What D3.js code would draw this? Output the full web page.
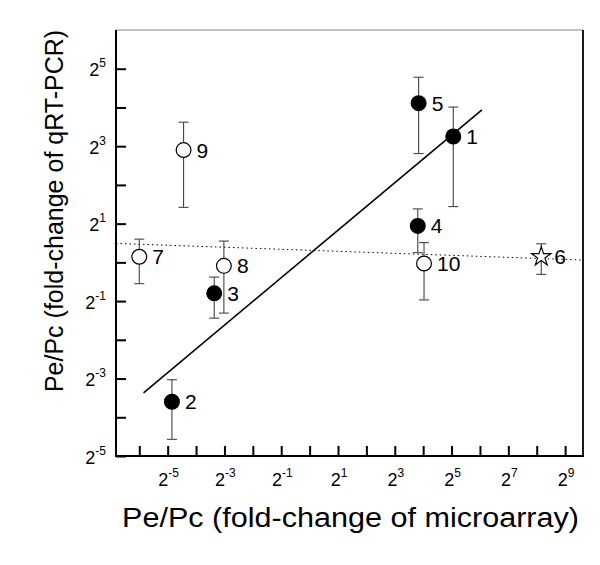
<!DOCTYPE html>
<html><head><meta charset="utf-8">
<script src="https://cdn.jsdelivr.net/npm/d3@7"></script>
<style>body{margin:0;background:#fff}svg{display:block}text{font-family:Arial,"Liberation Sans",sans-serif}</style>
</head><body>
<svg id="chart" width="600" height="565"></svg>
<script>
// log2 values
const ids       = ["1","2","3","4","5","6","7","8","9","10"];
const xLog2     = [5.06,-4.85,-3.36,3.81,3.84,8.16,-6.0,-3.02,-4.44,4.03];
const yLog2     = [3.25,-3.60,-0.80,0.94,4.11,0.145,0.145,-0.09,2.90,-0.03];
const yErrHigh  = [4.01,-3.03,-0.38,1.38,4.78,0.48,0.60,0.55,3.62,0.51];
const yErrLow   = [1.44,-4.57,-1.44,0.25,2.81,-0.31,-0.55,-1.31,1.42,-0.97];
const markers   = ["filled","filled","filled","filled","filled","star","open","open","open","open"];
const xTicks    = [-6,-5,-4,-3,-2,-1,0,1,2,3,4,5,6,7,8,9];
const xTickLabels = [-5,-3,-1,1,3,5,7,9];
const yTicks    = [-5,-4,-3,-2,-1,0,1,2,3,4,5];
const yTickLabels = [-5,-3,-1,1,3,5];
const fitLine   = [[-5.85,-3.37],[6.07,3.94]];
const flatLine  = [[-6.82,0.49],[9.63,0.06]];
const xDomain = [-6.82, 9.63];
const yDomain = [-5, 6];

const svg = d3.select("#chart");
const L=116, R=583, T=30, B=456;
const x = d3.scaleLinear().domain(xDomain).range([L,R]);
const y = d3.scaleLinear().domain(yDomain).range([B,T]);

// frame
svg.append("line").attr("x1",L).attr("x2",R).attr("y1",T).attr("y2",T).attr("stroke","#888").attr("stroke-width",1.2);
svg.append("line").attr("x1",R).attr("x2",R).attr("y1",T).attr("y2",B).attr("stroke","#000").attr("stroke-width",1.8);

function supLabel(sel, e){
  sel.text(null);
  sel.append("tspan").text("2").style("font-size","18px");
  sel.append("tspan").text(e).style("font-size","12px").attr("dy","-9");
}

const xAxis = d3.axisBottom(x).tickValues(xTicks).tickSizeInner(-10).tickSizeOuter(0).tickFormat("");
const gx = svg.append("g").attr("transform",`translate(0,${B})`).call(xAxis);
const yAxis = d3.axisLeft(y).tickValues(yTicks).tickSizeInner(-10).tickSizeOuter(0).tickFormat("");
const gy = svg.append("g").attr("transform",`translate(${L},0)`).call(yAxis);
[gx,gy].forEach(g=>{
  g.select(".domain").attr("stroke","#000").attr("stroke-width",2);
  g.selectAll(".tick line").attr("stroke","#000").attr("stroke-width",2);
});
gx.select(".domain").attr("d",`M${L-1},0H${R+1}`);
gy.select(".domain").attr("d",`M0,${T}V${B+1}`);

// tick labels
svg.append("g").selectAll("text").data(xTickLabels).join("text")
  .attr("x",d=>x(d)+1).attr("y",B+30).attr("text-anchor","middle")
  .each(function(d){supLabel(d3.select(this), d);});
svg.append("g").selectAll("text").data(yTickLabels).join("text")
  .attr("x",L-10).attr("y",d=>y(d)+7.5).attr("text-anchor","end")
  .each(function(d){supLabel(d3.select(this), d);});

// lines
const line = d3.line().x(d=>x(d[0])).y(d=>y(d[1]));
svg.append("path").attr("d",line(flatLine)).attr("stroke","#000").attr("stroke-width",1).attr("stroke-dasharray","1.5,3").attr("fill","none");
svg.append("path").attr("d",line(fitLine)).attr("stroke","#000").attr("stroke-width",1.6).attr("fill","none");

// error bars
const eb = svg.append("g").attr("stroke","#444").attr("stroke-width",1.1);
ids.forEach((id,i)=>{
  const cx=x(xLog2[i]);
  eb.append("line").attr("x1",cx).attr("x2",cx).attr("y1",y(yErrHigh[i])).attr("y2",y(yErrLow[i]));
  [yErrHigh[i],yErrLow[i]].forEach(v=>eb.append("line").attr("x1",cx-5).attr("x2",cx+5).attr("y1",y(v)).attr("y2",y(v)));
});

// markers
ids.forEach((id,i)=>{
  const cx=x(xLog2[i]), cy=y(yLog2[i]);
  if(markers[i]==="star"){
    svg.append("path").attr("d",d3.symbol(d3.symbolStar,115)()).attr("transform",`translate(${cx},${cy})`)
      .attr("fill","#fff").attr("stroke","#000").attr("stroke-width",1.2);
  } else {
    svg.append("circle").attr("cx",cx).attr("cy",cy).attr("r",7.4)
      .attr("fill",markers[i]==="filled"?"#000":"#fff").attr("stroke","#000").attr("stroke-width",1.2);
  }
  svg.append("text").attr("x",cx+13).attr("y",cy+7.5).style("font-size","21px").text(id);
});

// titles
svg.append("text").attr("x",122).attr("y",527).style("font-size","27px")
  .attr("textLength",457).attr("lengthAdjust","spacingAndGlyphs").text("Pe/Pc (fold-change of microarray)");
svg.append("text").attr("transform",`translate(63,211) rotate(-90)`).attr("text-anchor","middle").style("font-size","25px")
  .text("Pe/Pc (fold-change of qRT-PCR)");
</script>
</body></html>
